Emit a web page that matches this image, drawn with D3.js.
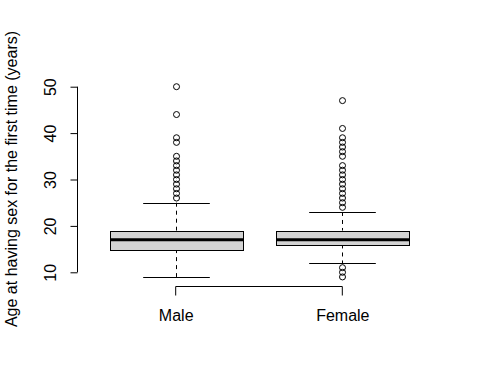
<!DOCTYPE html>
<html><head><meta charset="utf-8">
<script src="https://cdn.jsdelivr.net/npm/d3@7"></script>
<style>body{margin:0;background:#fff}svg{display:block}text{font-family:"Liberation Sans",Arial,sans-serif;fill:#000}</style>
</head><body>
<script>
const categories = ["Male", "Female"];
const q1 = [15, 16];
const medians = [17, 17];
const q3 = [19, 19];
const whiskerLow = [9, 12];
const whiskerHigh = [25, 23];
const outliersMale = [50, 44, 39, 38, 35, 34, 33, 32, 31, 30, 29, 28, 27, 26];
const outliersFemale = [47, 41, 39, 38, 37, 36, 35, 33, 32, 31, 30, 29, 28, 27, 26, 25, 24, 11, 10, 9];
const outliers = [outliersMale, outliersFemale];
const yTicks = [10, 20, 30, 40, 50];
const yTitle = "Age at having sex for the first time (years)";

const W = 480, H = 384;
const FONT = "Liberation Sans, Arial, sans-serif";
const svg = d3.select("body").append("svg").attr("width", W).attr("height", H);
const y = d3.scaleLinear().domain([10, 50]).range([272.3, 86.7]);
const x = d3.scaleLinear().domain([1, 2]).range([175.7, 342.3]);
const unit = x(2) - x(1);
const boxW = 0.8 * unit, capW = 0.4 * unit;

// y axis
const yAxis = d3.axisLeft(y).tickValues(yTicks).tickSize(7).tickFormat(d3.format("d"));
const gy = svg.append("g").attr("transform", "translate(77.5,0)").call(yAxis);
gy.select(".domain").attr("stroke", "#000").attr("d", `M0,${y(10)}V${y(50)}`);
gy.selectAll(".tick line").attr("stroke", "#000");
gy.selectAll(".tick text").attr("font-size", 16).attr("font-family", FONT)
  .attr("text-anchor", "middle").attr("dy", 0).attr("x", 0).attr("y", 0)
  .attr("transform", "translate(-22,0) rotate(-90)");

// x axis bracket
const xAxis = d3.axisBottom(x).tickValues([1, 2]).tickSize(9).tickFormat((d) => categories[d - 1]);
const gx = svg.append("g").attr("transform", "translate(0,286.5)").call(xAxis);
gx.select(".domain").attr("stroke", "#000").attr("d", `M${x(1)},9V0H${x(2)}V9`);
gx.selectAll(".tick line").remove();
gx.selectAll(".tick text").attr("font-size", 16).attr("font-family", FONT)
  .attr("y", 34).attr("dy", 0);

// boxes
const g = svg.append("g");
categories.forEach((c, i) => {
  const cx = Math.round(x(i + 1)) + 0.5;
  g.append("line").attr("x1", cx).attr("x2", cx).attr("y1", y(whiskerHigh[i])).attr("y2", y(q3[i]))
    .attr("stroke", "#000").attr("stroke-dasharray", "4,4");
  g.append("line").attr("x1", cx).attr("x2", cx).attr("y1", y(q1[i])).attr("y2", y(whiskerLow[i]))
    .attr("stroke", "#000").attr("stroke-dasharray", "4,4");
  [whiskerHigh[i], whiskerLow[i]].forEach(v => {
    g.append("line").attr("x1", cx - capW / 2).attr("x2", cx + capW / 2)
      .attr("y1", Math.round(y(v)) + 0.5).attr("y2", Math.round(y(v)) + 0.5).attr("stroke", "#000");
  });
  g.append("rect").attr("x", Math.round(cx - boxW / 2) + 0.5).attr("width", Math.round(boxW))
    .attr("y", Math.round(y(q3[i])) + 0.5).attr("height", Math.round(y(q1[i]) - y(q3[i])))
    .attr("fill", "#d3d3d3").attr("stroke", "#000");
  g.append("line").attr("x1", Math.round(cx - boxW / 2) + 0.5).attr("x2", Math.round(cx + boxW / 2) + 0.5)
    .attr("y1", y(medians[i])).attr("y2", y(medians[i])).attr("stroke", "#000").attr("stroke-width", 3);
  g.selectAll(null).data(outliers[i]).enter().append("circle")
    .attr("cx", cx).attr("cy", d => y(d)).attr("r", 3)
    .attr("fill", "none").attr("stroke", "#000");
});

// y title
svg.append("text").attr("transform", `translate(17,179) rotate(-90)`)
  .attr("text-anchor", "middle").attr("font-size", 16).attr("font-family", FONT).text(yTitle);
</script>
</body></html>
